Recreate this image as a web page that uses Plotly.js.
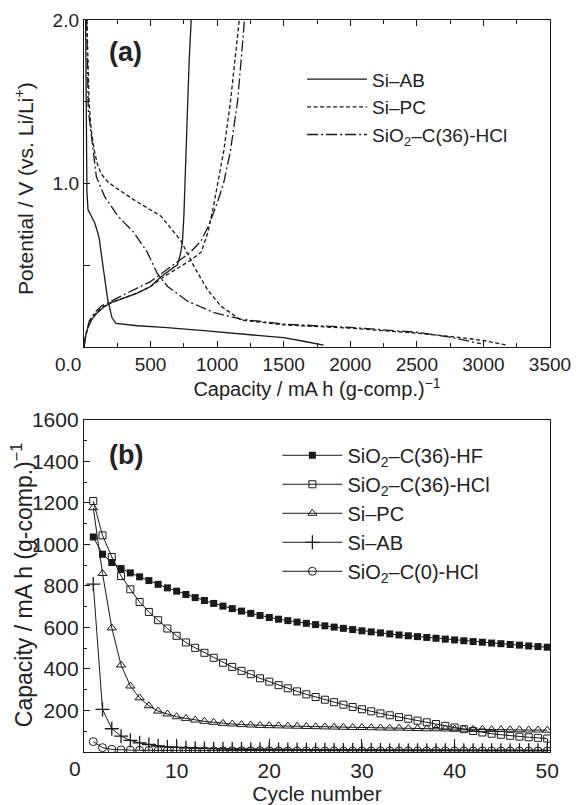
<!DOCTYPE html>
<html>
<head>
<meta charset="utf-8">
<script src="https://cdn.plot.ly/plotly-3.0.1.min.js"></script>
<style>html,body{margin:0;padding:0;background:#fff;}#chart{width:576px;height:805px;}</style>
</head>
<body>
<div id="chart"></div>
<script>
// ---------- Panel (a): potential profiles ----------
var siAB_dis_x = [12, 15, 18, 22, 30, 53, 80, 103, 115, 128, 150, 178, 210, 240, 400, 600, 900, 1200, 1500, 1650, 1800];
var siAB_dis_y = [2.0, 1.6, 1.2, 0.95, 0.84, 0.80, 0.76, 0.70, 0.66, 0.58, 0.45, 0.29, 0.18, 0.145, 0.13, 0.12, 0.10, 0.08, 0.057, 0.035, 0.012];
var siAB_ch_x = [0, 10, 30, 60, 100, 150, 200, 300, 400, 500, 578, 678, 700, 725, 740, 750, 760, 775, 790, 805];
var siAB_ch_y = [0.0, 0.06, 0.12, 0.17, 0.21, 0.245, 0.27, 0.30, 0.33, 0.37, 0.43, 0.49, 0.50, 0.57, 0.65, 0.80, 1.0, 1.4, 1.75, 2.0];

var siPC_dis_x = [22, 30, 38, 55, 78, 100, 128, 178, 228, 375, 578, 728, 828, 928, 1028, 1178, 1500, 2000, 2500, 2800, 3000, 3170];
var siPC_dis_y = [2.0, 1.75, 1.5, 1.32, 1.20, 1.12, 1.06, 1.01, 0.98, 0.90, 0.80, 0.65, 0.49, 0.35, 0.25, 0.165, 0.135, 0.115, 0.085, 0.06, 0.04, 0.012];
var siPC_ch_x = [0, 15, 40, 80, 130, 200, 300, 400, 500, 600, 700, 800, 880, 930, 970, 1003, 1050, 1100, 1140, 1166];
var siPC_ch_y = [0.0, 0.08, 0.15, 0.20, 0.24, 0.27, 0.30, 0.33, 0.37, 0.43, 0.48, 0.53, 0.58, 0.70, 0.85, 1.0, 1.2, 1.5, 1.8, 2.0];

var sio2_dis_x = [20, 25, 32, 53, 75, 93, 155, 255, 375, 475, 550, 628, 778, 978, 1178, 1502, 2000, 2500, 2750, 2980];
var sio2_dis_y = [2.0, 1.6, 1.45, 1.31, 1.15, 1.04, 0.92, 0.80, 0.70, 0.58, 0.45, 0.37, 0.28, 0.21, 0.17, 0.14, 0.12, 0.09, 0.06, 0.02];
var sio2_ch_x = [0, 15, 40, 80, 130, 200, 300, 400, 500, 600, 700, 800, 880, 940, 1000, 1048, 1100, 1153, 1185, 1205];
var sio2_ch_y = [0.0, 0.08, 0.16, 0.21, 0.25, 0.28, 0.32, 0.36, 0.40, 0.46, 0.52, 0.58, 0.65, 0.75, 0.88, 1.0, 1.2, 1.5, 1.8, 2.0];

var namesA = ['Si\u2013AB', 'Si\u2013PC', 'SiO<sub>2</sub>\u2013C(36)-HCl'];
var capTicksA = [500, 1000, 1500, 2000, 2500, 3000, 3500];
var potTicks = [0.5, 1.0, 1.5, 2.0];
var potTickText = ['', '1.0', '', '2.0'];

// ---------- Panel (b): cycle performance ----------
var cycles = [];
for (var i = 1; i <= 50; i++) cycles.push(i);
var hf36 = [1036, 953, 913, 884, 863, 844, 826, 808, 791, 775, 759, 744, 730, 716, 703, 691, 679, 668, 658, 648,
            640, 633, 626, 620, 614, 608, 602, 596, 590, 584, 579, 574, 569, 564, 560, 556, 552, 548, 544, 540,
            536, 532, 529, 525, 522, 518, 515, 511, 508, 505];
var hcl36 = [1209, 1044, 940, 848, 784, 723, 675, 635, 595, 560, 528, 502, 478, 454, 430, 410, 391, 375, 355, 339,
             322, 307, 292, 278, 265, 252, 240, 228, 217, 206, 196, 186, 177, 168, 160, 151, 143, 135, 126, 118,
             110, 101, 94, 88, 83, 78, 74, 71, 68, 65];
var siPC_cyc = [1177, 860, 598, 419, 318, 261, 223, 197, 183, 170, 162, 154, 148, 143, 138, 135, 132, 130, 128, 127,
                126, 125, 124, 123, 122, 121, 120, 119, 118, 118, 117, 116, 115, 115, 114, 113, 112, 112, 111, 110,
                110, 109, 109, 108, 108, 107, 107, 106, 106, 105];
var siAB_cyc = [809, 205, 112, 76, 56, 44, 36, 29, 25, 22, 20, 18, 17, 16, 15, 14, 14, 13, 13, 12,
                12, 12, 11, 11, 11, 11, 10, 10, 10, 10, 10, 10, 9, 9, 9, 9, 9, 9, 9, 9,
                8, 8, 8, 8, 8, 8, 8, 8, 8, 8];
var hcl0 = [50, 21, 13, 10, 9, 8, 8, 7, 7, 7, 7, 6, 6, 6, 6, 6, 6, 6, 6, 6,
            5, 5, 5, 5, 5, 5, 5, 5, 5, 5, 5, 5, 5, 5, 5, 5, 5, 5, 5, 5,
            5, 5, 5, 5, 5, 5, 5, 5, 5, 5];
var namesB = ['SiO<sub>2</sub>\u2013C(36)-HF', 'SiO<sub>2</sub>\u2013C(36)-HCl', 'Si\u2013PC', 'Si\u2013AB', 'SiO<sub>2</sub>\u2013C(0)-HCl'];
var cycTicks = [10, 20, 30, 40, 50];
var capTicksB = [200, 400, 600, 800, 1000, 1200, 1400, 1600];

function join(a, b) { return a.concat([null], b); }

var FONT = 'Liberation Sans, Arial, Helvetica, sans-serif';
var BLACK = '#1a1a1a';

var traces = [
  {x: join(siAB_dis_x, siAB_ch_x), y: join(siAB_dis_y, siAB_ch_y), name: namesA[0], mode: 'lines',
   line: {color: BLACK, width: 1.3}, xaxis: 'x', yaxis: 'y', legend: 'legend', connectgaps: false},
  {x: join(siPC_dis_x, siPC_ch_x), y: join(siPC_dis_y, siPC_ch_y), name: namesA[1], mode: 'lines',
   line: {color: BLACK, width: 1.3, dash: '4px,2.5px'}, xaxis: 'x', yaxis: 'y', legend: 'legend', connectgaps: false},
  {x: join(sio2_dis_x, sio2_ch_x), y: join(sio2_dis_y, sio2_ch_y), name: namesA[2], mode: 'lines',
   line: {color: BLACK, width: 1.3, dash: '11px,3px,2px,3px'}, xaxis: 'x', yaxis: 'y', legend: 'legend', connectgaps: false},

  {x: cycles, y: hf36, name: namesB[0], mode: 'lines+markers', xaxis: 'x2', yaxis: 'y2', legend: 'legend2',
   line: {color: BLACK, width: 1}, marker: {symbol: 'square', size: 7, color: BLACK}},
  {x: cycles, y: hcl36, name: namesB[1], mode: 'lines+markers', xaxis: 'x2', yaxis: 'y2', legend: 'legend2',
   line: {color: BLACK, width: 1}, marker: {symbol: 'square-open', size: 7, color: BLACK, line: {width: 1}}},
  {x: cycles, y: siPC_cyc, name: namesB[2], mode: 'lines+markers', xaxis: 'x2', yaxis: 'y2', legend: 'legend2',
   line: {color: BLACK, width: 1}, marker: {symbol: 'triangle-up-open', size: 8, color: BLACK, line: {width: 1}}},
  {x: cycles, y: siAB_cyc, name: namesB[3], mode: 'lines+markers', xaxis: 'x2', yaxis: 'y2', legend: 'legend2',
   line: {color: BLACK, width: 1}, marker: {symbol: 'cross-thin-open', size: 10, color: BLACK, line: {width: 1.3, color: BLACK}}},
  {x: cycles, y: hcl0, name: namesB[4], mode: 'lines+markers', xaxis: 'x2', yaxis: 'y2', legend: 'legend2',
   line: {color: BLACK, width: 1}, marker: {symbol: 'circle-open', size: 8, color: BLACK, line: {width: 1}}}
];

var axCommon = {showgrid: false, zeroline: false, showline: true, linecolor: BLACK, linewidth: 1.2,
  ticks: 'inside', tickcolor: BLACK, tickwidth: 1, color: '#222'};

var layout = {
  width: 576, height: 805,
  margin: {l: 84, r: 26, t: 20, b: 53},
  paper_bgcolor: '#fff', plot_bgcolor: '#fff',
  font: {family: FONT, color: '#222', size: 19},
  showlegend: true,
  xaxis: Object.assign({}, axCommon, {
    anchor: 'y', domain: [0, 1], range: [0, 3500], tickmode: 'array', tickvals: capTicksA,
    ticklen: 6, mirror: 'ticks', tickfont: {size: 19},
    minor: {dtick: 250, tick0: 0, ticks: 'inside', ticklen: 4, tickcolor: BLACK, showgrid: false},
    title: {text: 'Capacity / mA h (g-comp.)<sup>\u22121</sup>', font: {size: 20}, standoff: 4}
  }),
  yaxis: Object.assign({}, axCommon, {
    anchor: 'x', domain: [0.5533, 1], range: [0, 2], tickmode: 'array', tickvals: potTicks, ticktext: potTickText,
    ticklen: 6, mirror: true, tickfont: {size: 19}
  }),
  xaxis2: Object.assign({}, axCommon, {
    anchor: 'y2', domain: [0, 1], range: [0, 50.3], tickmode: 'array', tickvals: cycTicks,
    ticklen: 13, mirror: true, tickfont: {size: 21},
    title: {text: 'Cycle number', font: {size: 21}, standoff: 2}
  }),
  yaxis2: Object.assign({}, axCommon, {
    anchor: 'x2', domain: [0, 0.4536], range: [0, 1600], tickmode: 'array', tickvals: capTicksB,
    ticklen: 6, mirror: true, tickfont: {size: 21},
    minor: {dtick: 100, tick0: 0, ticks: 'inside', ticklen: 3, tickcolor: BLACK, showgrid: false}
  }),
  legend: {x: 0.468, y: 0.945, xanchor: 'left', yanchor: 'top', bgcolor: 'rgba(0,0,0,0)',
    font: {size: 19, family: FONT, color: '#222'}, itemwidth: 60, tracegroupgap: 0},
  legend2: {x: 0.415, y: 0.432, xanchor: 'left', yanchor: 'top', bgcolor: 'rgba(0,0,0,0)',
    font: {size: 20, family: FONT, color: '#222'}, itemwidth: 60, tracegroupgap: 0},
  annotations: [
    {text: 'Potential / V (vs. Li/Li<sup>+</sup>)', xref: 'paper', yref: 'paper', x: -0.1288, y: 0.7705,
     xanchor: 'center', yanchor: 'middle', textangle: -90, showarrow: false, font: {size: 21, family: FONT, color: '#222'}},
    {text: 'Capacity / mA h (g-comp.)<sup>\u22121</sup>', xref: 'paper', yref: 'paper', x: -0.133, y: 0.228,
     xanchor: 'center', yanchor: 'middle', textangle: -90, showarrow: false, font: {size: 23, family: FONT, color: '#222'}},
    {text: '<b>(a)</b>', xref: 'paper', yref: 'paper', x: 0.09, y: 0.956, xanchor: 'center', yanchor: 'middle',
     showarrow: false, font: {size: 27, family: FONT, color: '#222'}},
    {text: '<b>(b)</b>', xref: 'paper', yref: 'paper', x: 0.09, y: 0.406, xanchor: 'center', yanchor: 'middle',
     showarrow: false, font: {size: 27, family: FONT, color: '#222'}},
    {text: '0.0', xref: 'paper', yref: 'paper', x: -0.034, y: 0.529, xanchor: 'center', yanchor: 'middle',
     showarrow: false, font: {size: 19, family: FONT, color: '#222'}},
    {text: '0', xref: 'paper', yref: 'paper', x: -0.02, y: -0.023, xanchor: 'center', yanchor: 'middle',
     showarrow: false, font: {size: 21, family: FONT, color: '#222'}}
  ]
};

Plotly.newPlot('chart', traces, layout, {staticPlot: true, displayModeBar: false});
</script>
</body>
</html>
